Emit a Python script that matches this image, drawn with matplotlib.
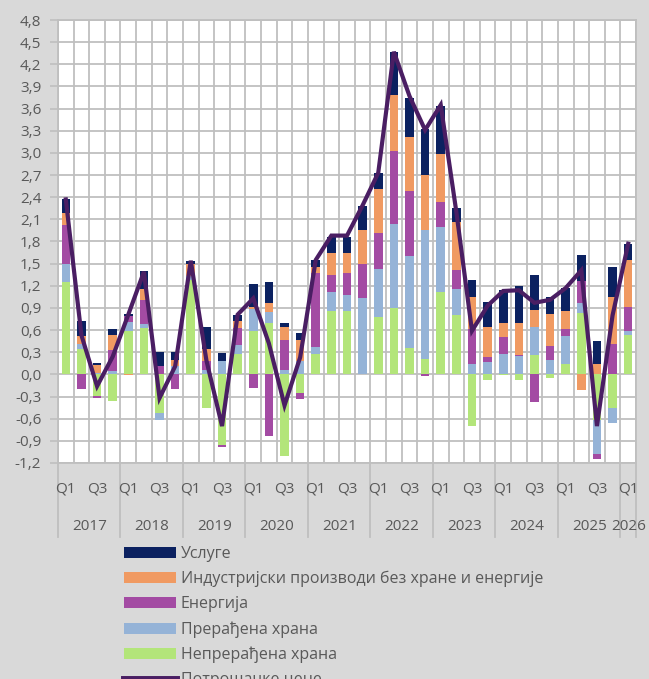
import matplotlib
matplotlib.use('Agg')
import matplotlib.pyplot as plt
import numpy as np
from matplotlib.patches import Patch
from matplotlib.lines import Line2D
import matplotlib.transforms as mtransforms

plt.rcParams['font.family'] = ['Open Sans', 'DejaVu Sans']

# ---------------- data ----------------
years = ['2017', '2018', '2019', '2020', '2021', '2022', '2023', '2024', '2025', '2026']
quarters = ['Q1', 'Q2', 'Q3', 'Q4'] * 9 + ['Q1']

unprocessed_food = [1.25, 0.35, -0.29, -0.36, 0.59, 0.63, -0.52, 0.00, 1.28, -0.45,
                    -0.95, 0.28, 0.59, 0.69, -1.10, -0.25, 0.28, 0.86, 0.86, 0.00,
                    0.78, 0.90, 0.36, 0.21, 1.11, 0.81, -0.70, -0.08, -0.01, -0.07,
                    0.26, -0.05, 0.14, 0.83, -0.62, -0.45, 0.54]
processed_food = [0.25, 0.06, 0.02, 0.05, 0.12, 0.05, -0.10, 0.11, 0.05, 0.06,
                  0.18, 0.12, 0.30, 0.15, 0.06, 0.18, 0.09, 0.26, 0.22, 1.04,
                  0.65, 1.14, 1.24, 1.74, 0.88, 0.34, 0.14, 0.17, 0.27, 0.25,
                  0.38, 0.20, 0.38, 0.14, -0.46, -0.21, 0.05]
energy = [0.52, -0.20, -0.03, 0.28, 0.08, 0.33, 0.11, -0.20, 0.00, 0.12,
          -0.04, 0.23, -0.19, -0.83, 0.40, -0.08, 1.01, 0.22, 0.29, 0.45,
          0.49, 0.99, 0.89, -0.02, 0.35, 0.26, 0.47, 0.07, 0.24, 0.01,
          -0.38, 0.18, 0.09, 0.29, -0.07, 0.41, 0.32]
industrial = [0.16, 0.11, 0.11, 0.21, -0.01, 0.15, 0.00, 0.09, 0.17, 0.16,
              0.00, 0.10, 0.02, 0.13, 0.18, 0.28, 0.07, 0.30, 0.28, 0.47,
              0.59, 0.76, 0.73, 0.75, 0.65, 0.65, 0.44, 0.40, 0.19, 0.43,
              0.23, 0.44, 0.25, -0.21, 0.14, 0.64, 0.64]
services = [0.19, 0.21, 0.03, 0.07, 0.03, 0.24, 0.19, 0.11, 0.03, 0.30,
            0.11, 0.07, 0.31, 0.28, 0.05, 0.10, 0.10, 0.22, 0.21, 0.32,
            0.22, 0.58, 0.53, 0.63, 0.65, 0.19, 0.23, 0.34, 0.44, 0.51,
            0.47, 0.23, 0.31, 0.36, 0.31, 0.41, 0.22]
cpi = [2.37, 0.53, -0.16, 0.24, 0.81, 1.39, -0.32, 0.11, 1.54, 0.19,
       -0.70, 0.81, 1.03, 0.42, -0.42, 0.23, 1.55, 1.88, 1.88, 2.29,
       2.73, 4.37, 3.77, 3.31, 3.65, 2.20, 0.59, 0.93, 1.13, 1.14,
       0.97, 1.01, 1.17, 1.41, -0.70, 0.80, 1.77]

series_names = ['Непрерађена храна', 'Прерађена храна', 'Енергија',
                'Индустријски производи без хране и енергије', 'Услуге']
line_name = 'Потрошачке цене'
# ---------------------------------------

series_vals = [unprocessed_food, processed_food, energy, industrial, services]
colors = ['#B3E57A', '#95B3D7', '#A34BA3', '#F09A62', '#0B2160']
line_color = '#4A1E63'
grid_color = '#BFBFBF'
text_color = '#595959'

fig = plt.figure(figsize=(6.49, 6.79), dpi=100, facecolor='#D9D9D9')
ax = fig.add_axes([58 / 649, (679 - 463) / 679, (636 - 58) / 649, (463 - 20) / 679])
ax.set_facecolor('white')

n = len(cpi)
x = np.arange(n)
pos_bottom = np.zeros(n)
neg_bottom = np.zeros(n)
for vals, col, name in zip(series_vals, colors, series_names):
    v = np.array(vals)
    bottoms = np.where(v >= 0, pos_bottom, neg_bottom)
    ax.bar(x, v, bottom=bottoms, width=0.55, color=col, label=name, zorder=3,
           linewidth=0)
    pos_bottom = pos_bottom + np.where(v >= 0, v, 0)
    neg_bottom = neg_bottom + np.where(v < 0, v, 0)

ax.plot(x, cpi, color=line_color, lw=3.0, zorder=4, solid_joinstyle='miter')

ax.set_xlim(-0.5, n - 0.5)
ax.set_ylim(-1.2, 4.8)
yt = np.round(np.arange(-1.2, 4.81, 0.3), 1)
ax.set_yticks(yt)
ax.set_yticklabels([f'{v:.1f}'.replace('.', ',') for v in yt])
ax.set_xticks([])
ax.set_xticks(np.arange(-0.5, n, 1.0), minor=True)
ax.tick_params(axis='x', which='both', length=0, labelbottom=False)
ax.tick_params(axis='y', length=6, color=grid_color, width=1.2, labelcolor=text_color,
               labelsize=11, pad=6)
ax.grid(True, axis='y', which='major', color=grid_color, lw=1.3, zorder=0)
ax.grid(True, axis='x', which='minor', color=grid_color, lw=1.3, zorder=0)
for s in ax.spines.values():
    s.set_color(grid_color)
    s.set_linewidth(1.3)

# category labels
trans = mtransforms.blended_transform_factory(ax.transData, ax.transAxes)
ax_h_px = 463 - 20
for i, q in enumerate(quarters):
    if q in ('Q1', 'Q3'):
        ax.text(i, -26 / ax_h_px, q, transform=trans, ha='center', va='center',
                color=text_color, fontsize=11)

# year groups
starts = []
idx = 0
for yi, yr in enumerate(years):
    cnt = 4 if yi < len(years) - 1 else 1
    starts.append((idx, cnt))
    idx += cnt
for (s0, cnt), yr in zip(starts, years):
    ax.text(s0 + (cnt - 1) / 2, -63 / ax_h_px, yr, transform=trans, ha='center',
            va='center', color=text_color, fontsize=11)
bounds = [s0 - 0.5 for s0, _ in starts] + [n - 0.5]
for bx in bounds:
    ax.plot([bx, bx], [0, -74 / ax_h_px], transform=trans, color=grid_color,
            lw=1.3, clip_on=False, zorder=1)

# legend
handles = [Patch(facecolor=colors[i], edgecolor='none') for i in [4, 3, 2, 1, 0]]
labels = [series_names[i] for i in [4, 3, 2, 1, 0]]
handles.append(Line2D([0], [0], color=line_color, lw=5))
labels.append(line_name)
fig.legend(handles, labels, loc='upper left', bbox_to_anchor=(124 / 649, 1 - 546 / 679),
           frameon=False, fontsize=11.5, handlelength=3.25, handleheight=0.69,
           labelspacing=0.56, handletextpad=0.3, borderpad=0, borderaxespad=0,
           labelcolor=text_color)

fig.savefig('out.png', dpi=100, facecolor=fig.get_facecolor())
